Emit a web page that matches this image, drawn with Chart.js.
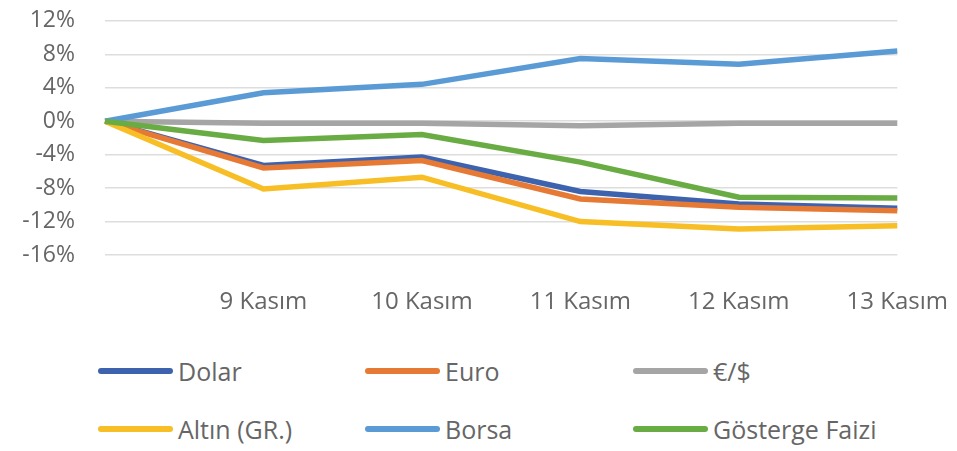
<!DOCTYPE html>
<html>
<head>
<meta charset="utf-8">
<script src="https://cdn.jsdelivr.net/npm/chart.js@4.4.1/dist/chart.umd.min.js"></script>
<style>
  html, body { margin: 0; padding: 0; background: #fff; }
  #wrap { position: relative; width: 957px; height: 451px; overflow: hidden; }
  #box { position: absolute; left: 0; top: -23px; width: 973px; height: 353px; }
  .item { position: absolute; height: 40px; display: flex; align-items: center;
          font-family: "Open Sans", sans-serif; font-size: 25px; color: #666; }
  .swatch { width: 75px; height: 6px; border-radius: 3px; margin-right: 5px; }
</style>
</head>
<body>
<div id="wrap">
  <div id="box"><canvas id="chart"></canvas></div>
</div>
<script>
// Data (% change from start)
const labels = ['', '9 Kasım', '10 Kasım', '11 Kasım', '12 Kasım', '13 Kasım']
const seriesNames = ['Dolar', 'Euro', '€/$', 'Altın (GR.)', 'Borsa', 'Gösterge Faizi']
const dolar = [0, -5.3, -4.3, -8.4, -9.9, -10.4]
const euro = [0, -5.6, -4.7, -9.3, -10.3, -10.7]
const euroDolar = [0, -0.25, -0.25, -0.55, -0.25, -0.25]
const altin = [0, -8.1, -6.7, -12.0, -12.9, -12.5]
const borsa = [0, 3.4, 4.4, 7.5, 6.8, 8.4]
const gosterge = [0, -2.3, -1.6, -4.9, -9.1, -9.2]
const yTicks = [12, 8, 4, 0, -4, -8, -12, -16]

const seriesData = [dolar, euro, euroDolar, altin, borsa, gosterge]
const colors = ['#3E63AE', '#E67A35', '#A5A5A5', '#F7BE25', '#5B9BD5', '#6AAC44']

const datasets = seriesData.map((data, i) => ({
  label: seriesNames[i],
  data,
  borderColor: colors[i],
  backgroundColor: colors[i],
  borderWidth: 5.5,
  pointRadius: 0,
  tension: 0,
  order: seriesData.length - i
}))

const tickFont = { family: '"Open Sans", sans-serif', size: 23 }

new Chart(document.getElementById('chart'), {
  type: 'line',
  data: { labels, datasets },
  options: {
    responsive: true,
    maintainAspectRatio: false,
    animation: false,
    layout: { padding: { top: 0, right: 60, left: 0, bottom: 0 } },
    plugins: {
      legend: { display: false },
      tooltip: { enabled: false }
    },
    scales: {
      x: {
        offset: false,
        grid: { display: false },
        border: { display: false },
        ticks: { color: '#666', font: { ...tickFont, size: 24 }, padding: 25, maxRotation: 0, autoSkip: false },
        afterFit: (scale) => { scale.height = 75 }
      },
      y: {
        min: -16,
        max: 12,
        afterBuildTicks: (scale) => { scale.ticks = yTicks.map(v => ({ value: v })) },
        grid: { color: '#DDDDDD', lineWidth: 1.5, drawTicks: false },
        border: { display: false },
        ticks: { color: '#666', font: tickFont, padding: 30, autoSkip: false, callback: (v) => v + '%' },
        afterFit: (scale) => { scale.width = 105 }
      }
    }
  }
})

// Legend laid out in a 3 x 2 grid like the original
const wrap = document.getElementById('wrap')
const colLeft = [98, 365, 633]
const rowMid = [371, 429]
seriesNames.forEach((name, i) => {
  const item = document.createElement('div')
  item.className = 'item'
  item.style.left = colLeft[i % 3] + 'px'
  item.style.top = (rowMid[Math.floor(i / 3)] - 20) + 'px'
  const sw = document.createElement('div')
  sw.className = 'swatch'
  sw.style.background = colors[i]
  const txt = document.createElement('span')
  txt.textContent = name
  item.appendChild(sw)
  item.appendChild(txt)
  wrap.appendChild(item)
})
</script>
</body>
</html>
